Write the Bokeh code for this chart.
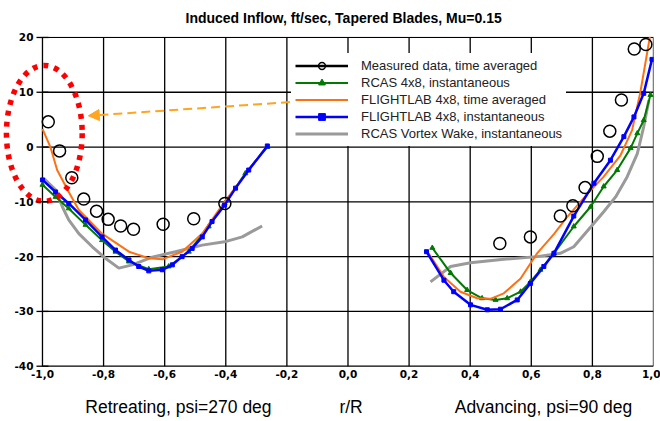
import math
from bokeh.plotting import figure
from bokeh.models import (Range1d, FixedTicker, Legend, LegendItem, Arrow, NormalHead,
                          LinearAxis, Title, BoxAnnotation)
from bokeh.core.properties import value
from bokeh.embed import file_html
from bokeh.resources import INLINE

NaN = float("nan")

# ---------------- data ----------------
meas_x = [-0.981, -0.944, -0.904, -0.865, -0.823, -0.785, -0.744, -0.702, -0.605, -0.505, -0.403,
          0.497, 0.597, 0.695, 0.736, 0.776, 0.816, 0.857, 0.895, 0.937, 0.975]
meas_y = [4.6, -0.7, -5.6, -9.5, -11.7, -13.2, -14.4, -15.0, -14.1, -13.1, -10.3,
          -17.6, -16.4, -12.6, -10.7, -7.4, -1.7, 2.9, 8.6, 17.9, 18.7]

rcas_x_left = [-1.0, -0.957, -0.914, -0.859, -0.805, -0.761, -0.717, -0.652, -0.587, -0.521, -0.456, -0.404, -0.336, -0.264]
rcas_y_left = [-6.9, -9.1, -11.2, -14.2, -17.0, -19.1, -20.9, -22.3, -21.8, -19.1, -14.5, -10.3, -4.8, 0.0]
rcas_x_right = [0.276, 0.336, 0.39, 0.439, 0.483, 0.521, 0.565, 0.597, 0.63, 0.674, 0.739, 0.794, 0.837, 0.881, 0.925, 0.947, 0.968, 0.99]
rcas_y_right = [-18.4, -23.0, -26.1, -27.6, -27.9, -27.6, -26.4, -24.6, -22.4, -19.4, -14.5, -10.9, -7.2, -4.2, -0.2, 2.5, 4.9, 9.5]

flav_x_left = [-1.0, -0.974, -0.952, -0.914, -0.881, -0.805, -0.717, -0.652, -0.608, -0.543, -0.477, -0.404, -0.325, -0.264]
flav_y_left = [3.3, 0.0, -4.2, -8.2, -11.5, -15.8, -19.1, -20.3, -20.5, -19.1, -15.8, -10.0, -4.2, 0.2]
flav_x_right = [0.264, 0.314, 0.368, 0.423, 0.466, 0.51, 0.565, 0.619, 0.674, 0.717, 0.761, 0.783, 0.837, 0.892, 0.93, 0.957, 0.99]
flav_y_right = [-19.4, -23.7, -26.4, -27.6, -27.7, -26.7, -24.0, -19.4, -15.9, -12.8, -10.0, -8.6, -5.4, -1.5, 3.1, 10.0, 20.7]

flin_x_left = [-1.0, -0.957, -0.914, -0.859, -0.805, -0.761, -0.717, -0.685, -0.652, -0.608, -0.575, -0.543, -0.51, -0.477, -0.445, -0.404, -0.368, -0.325, -0.264]
flin_y_left = [-6.0, -8.2, -10.3, -13.3, -16.4, -18.8, -20.6, -21.8, -22.6, -22.4, -21.5, -20.0, -18.5, -16.4, -13.6, -10.6, -7.5, -4.2, 0.2]
flin_x_right = [0.257, 0.314, 0.346, 0.401, 0.456, 0.499, 0.554, 0.597, 0.641, 0.674, 0.739, 0.805, 0.859, 0.903, 0.936, 0.968, 0.995]
flin_y_right = [-19.1, -24.3, -26.4, -28.8, -29.7, -29.6, -27.9, -24.9, -21.8, -19.4, -12.6, -6.6, -2.4, 1.9, 5.5, 9.8, 16.0]

vort_x_left = [-0.996, -0.957, -0.935, -0.914, -0.881, -0.837, -0.794, -0.75, -0.706, -0.641, -0.565, -0.477, -0.404, -0.346, -0.281]
vort_y_left = [-5.7, -7.8, -10.9, -13.3, -15.8, -18.2, -20.3, -22.1, -21.5, -20.1, -19.1, -17.9, -17.3, -16.4, -14.4]
vort_x_right = [0.27, 0.336, 0.401, 0.51, 0.619, 0.695, 0.739, 0.805, 0.837, 0.876, 0.914, 0.947, 0.968, 0.985]
vort_y_right = [-24.6, -21.8, -21.1, -20.5, -20.0, -19.4, -18.2, -13.9, -11.8, -9.1, -5.4, -1.2, 3.7, 8.6]

x_ticks = [-1.0, -0.8, -0.6, -0.4, -0.2, 0.0, 0.2, 0.4, 0.6, 0.8, 1.0]
x_tick_labels = ["-1,0", "-0,8", "-0,6", "-0,4", "-0,2", "0,0", "0,2", "0,4", "0,6", "0,8", "1,0"]
y_ticks = [-40, -30, -20, -10, 0, 10, 20]
y_tick_labels = ["-40", "-30", "-20", "-10", "0", "10", "20"]

title_text = "Induced Inflow, ft/sec,  Tapered Blades, Mu=0.15"
xlabels = ["Retreating, psi=270 deg", "r/R", "Advancing, psi=90 deg"]
xlabel_pos = [-0.555, 0.01, 0.64]

legend_labels = ["Measured data, time averaged", "RCAS 4x8, instantaneous",
                 "FLIGHTLAB 4x8, time averaged", "FLIGHTLAB 4x8, instantaneous",
                 "RCAS Vortex Wake, instantaneous"]

GREEN = "#007a00"
ORANGE = "#ff7010"
BLUE = "#0000ff"
GRAY = "#9a9a9a"
ARROW = "#ffa520"

X_MIN, X_MAX = -1.0, 1.0
Y_MIN, Y_MAX = -40, 20


def join(xl, yl, xr, yr):
    return xl + [NaN] + xr, yl + [NaN] + yr


# frame widened (left, top, bottom) so that the highlight ellipse and the hand-drawn
# value-axis labels are not clipped; a white box hides everything above y = 20
p = figure(width=660, height=421, x_range=Range1d(-1.1374, 1.0), y_range=Range1d(-40.6, 22.0),
           output_backend="svg", toolbar_location=None,
           min_border_left=0, min_border_right=7, min_border_top=26, min_border_bottom=52)
p.background_fill_color = "white"
p.border_fill_color = "white"
p.outline_line_color = None
p.yaxis.visible = False
p.xgrid.grid_line_color = None
p.ygrid.grid_line_color = None

t = Title(text=title_text, align="left", offset=185, standoff=2,
          text_font="Liberation Sans", text_font_style="bold", text_font_size="14px",
          text_color="black")
p.add_layout(t, "above")

xa = p.xaxis[0]
xa.ticker = FixedTicker(ticks=x_ticks)
xa.major_label_overrides = {tk: lb for tk, lb in zip(x_ticks, x_tick_labels)}
xa.axis_line_color = None
xa.major_tick_line_color = None
xa.minor_tick_line_color = None
xa.major_tick_out = 0
xa.major_tick_in = 0
xa.major_label_standoff = 0
xa.major_label_text_font = "DejaVu Sans"
xa.major_label_text_font_style = "bold"
xa.major_label_text_font_size = "10.5px"
xa.major_label_text_color = "black"

xa2 = LinearAxis(ticker=FixedTicker(ticks=xlabel_pos),
                 major_label_overrides={tk: lb for tk, lb in zip(xlabel_pos, xlabels)},
                 axis_line_color=None, major_tick_line_color=None, minor_tick_line_color=None,
                 major_tick_out=0, major_tick_in=0,
                 major_label_standoff=16, major_label_text_font="Liberation Sans",
                 major_label_text_font_size="17.5px", major_label_text_color="black")
p.add_layout(xa2, "below")

# grid and frame border, drawn as thin filled bars built from the tick lists
nx, ny = len(x_ticks), len(y_ticks)
p.rect(x=x_ticks, y=[(Y_MIN + Y_MAX) / 2] * nx, width=[1.3] * nx, width_units="screen",
       height=[Y_MAX - Y_MIN] * nx, fill_color="black", line_color=None)
p.rect(x=[(X_MIN + X_MAX) / 2] * ny, y=y_ticks, width=[X_MAX - X_MIN] * ny,
       height=[1.3] * ny, height_units="screen", fill_color="black", line_color=None)

# series
vx, vy = join(vort_x_left, vort_y_left, vort_x_right, vort_y_right)
r_vort = p.line(vx, vy, line_color=GRAY, line_width=3)

gx, gy = join(rcas_x_left, rcas_y_left, rcas_x_right, rcas_y_right)
r_rcas = p.line(gx, gy, line_color=GREEN, line_width=2)
r_rcas_m = p.scatter(gx, gy, marker="triangle", size=5, line_color=GREEN, fill_color=GREEN)

ox, oy = join(flav_x_left, flav_y_left, flav_x_right, flav_y_right)
r_flav = p.line(ox, oy, line_color=ORANGE, line_width=2)

bx, by = join(flin_x_left, flin_y_left, flin_x_right, flin_y_right)
r_flin = p.line(bx, by, line_color=BLUE, line_width=2.5)
r_flin_m = p.scatter(bx, by, marker="square", size=4, line_color=BLUE, fill_color=BLUE)

r_meas = p.scatter(meas_x, meas_y, marker="circle", size=12, line_color="black",
                   line_width=1.5, fill_alpha=0)
r_meas_line = p.line(x=[NaN], y=[NaN], line_color="black", line_width=2.5)

# red dotted ellipse (highlight)
p.ellipse(x=[-0.994], y=[2.5], width=[0.248], height=[24.8], fill_alpha=0,
          line_color="red", line_width=5.5, line_dash="5 6")

# hide whatever runs above the top of the value range
p.add_layout(BoxAnnotation(bottom=Y_MAX + 0.12, fill_color="white", fill_alpha=1,
                           line_alpha=0))

# value-axis tick marks and labels at x = -1
p.rect(x=[X_MIN] * ny, y=y_ticks, width=[12] * ny, width_units="screen",
       height=[1.3] * ny, height_units="screen", fill_color="black", line_color=None,
       level="overlay")
p.text(x=[X_MIN] * ny, y=y_ticks, text=y_tick_labels, x_offset=-9,
       text_align="right", text_baseline="middle", text_font=value("DejaVu Sans"),
       text_font_style="bold", text_font_size="10.5px", text_color="black", level="overlay")

# orange dashed arrow
arr = Arrow(end=NormalHead(size=11, fill_color=ARROW, line_color=ARROW),
            x_start=-0.19, y_start=8.2, x_end=-0.85, y_end=5.7,
            line_color=ARROW, line_width=2, line_dash="9 5")
p.add_layout(arr)

items = [
    LegendItem(label=legend_labels[0], renderers=[r_meas_line, r_meas]),
    LegendItem(label=legend_labels[1], renderers=[r_rcas, r_rcas_m]),
    LegendItem(label=legend_labels[2], renderers=[r_flav]),
    LegendItem(label=legend_labels[3], renderers=[r_flin, r_flin_m]),
    LegendItem(label=legend_labels[4], renderers=[r_vort]),
]
legend = Legend(items=items, location=(291, 223), glyph_width=53, glyph_height=17,
                label_height=17, label_standoff=13, spacing=0, padding=4, margin=0,
                border_line_alpha=0, background_fill_color="white", background_fill_alpha=1,
                label_text_font="Liberation Sans", label_text_font_size="13px",
                label_text_color="#222222")
p.add_layout(legend, "center")

open("out.html", "w").write(file_html(p, INLINE))
